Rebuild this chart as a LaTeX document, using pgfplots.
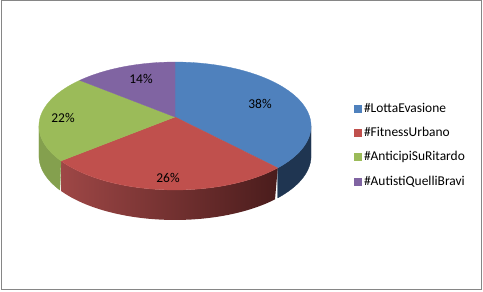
\documentclass[border=0pt]{standalone}
\usepackage{pgfplots}
\pgfplotsset{compat=1.18}
\usepackage{fontspec}
\setmainfont{Carlito}
\definecolor{cBlue}{HTML}{4F81BD}
\definecolor{cRed}{HTML}{C0504D}
\definecolor{cGreen}{HTML}{9BBB59}
\definecolor{cPurple}{HTML}{8064A2}
\definecolor{sBlue}{HTML}{1F3551}
\definecolor{sRedL}{HTML}{9E4746}
\definecolor{sRedR}{HTML}{4A1C1C}
\definecolor{sGreen}{HTML}{84A04E}
\definecolor{frameGray}{HTML}{868686}
% slice values (percent)
\def\vA{38}\def\vB{26}\def\vC{22}\def\vD{14}
\pgfmathsetmacro{\aA}{90}
\pgfmathsetmacro{\aB}{90-3.6*\vA}
\pgfmathsetmacro{\aC}{\aB-3.6*\vB}
\pgfmathsetmacro{\aD}{\aC-3.6*\vC}
\pgfmathsetmacro{\aE}{\aD-3.6*\vD}
\pgfmathsetmacro{\silR}{-asin(0.1406)}
\pgfmathsetmacro{\silL}{-180+asin(0.1406)}
\begin{document}
\begin{tikzpicture}
\begin{axis}[
  scale only axis, width=480bp, height=288bp,
  xmin=1, xmax=481, ymin=1, ymax=289, y dir=reverse,
  xtick=\empty, ytick=\empty,
  axis line style={draw=frameGray, line width=1bp},
  clip=false,
  declare function={
    den(\t)=1+0.1406*sin(\t);
    px(\t)=175+134.7*cos(\t)/den(\t);
    py(\t)=117-62.7*sin(\t)/den(\t);
  },
  font=\fontsize{13.5}{16}\selectfont,
  legend style={at={(axis cs:354,102)}, anchor=north west, draw=none, fill=none,
    inner sep=0pt, row sep=11.4bp, font=\fontsize{13.5}{16}\selectfont,
    nodes={inner xsep=2.5bp, inner ysep=1bp}},
  legend cell align=left,
  legend image code/.code={\fill[#1] (0bp,-3.5bp) rectangle (7bp,3.5bp);},
]
\path (axis cs:0,0) (axis cs:483,291);
% sides
\addplot[forget plot, draw=sBlue, line width=0.3bp, fill=sBlue, variable=\t, domain=0:2, samples=81]
  ({px(ifthenelse(\t>1, \silR-(\t-1)*(\silR-\aB), \aB+\t*(\silR-\aB)))},
   {py(ifthenelse(\t>1, \silR-(\t-1)*(\silR-\aB), \aB+\t*(\silR-\aB)))+30*(\t>1)}) -- cycle;
\addplot[forget plot, draw=none, left color=sRedL, right color=sRedR, variable=\t, domain=0:2, samples=121]
  ({px(ifthenelse(\t>1, \aB-(\t-1)*(\aB-\aC), \aC+\t*(\aB-\aC)))},
   {py(ifthenelse(\t>1, \aB-(\t-1)*(\aB-\aC), \aC+\t*(\aB-\aC)))+30*(\t>1)}) -- cycle;
\addplot[forget plot, draw=sGreen, line width=0.3bp, fill=sGreen, variable=\t, domain=0:2, samples=81]
  ({px(ifthenelse(\t>1, \aC-(\t-1)*(\aC-\silL), \silL+\t*(\aC-\silL)))},
   {py(ifthenelse(\t>1, \aC-(\t-1)*(\aC-\silL), \silL+\t*(\aC-\silL)))+30*(\t>1)}) -- cycle;
% top faces
\addplot[draw=cBlue, line width=0.3bp, fill=cBlue, domain=\aB:\aA, samples=80] ({px(x)},{py(x)}) -- (axis cs:175,117) -- cycle;
\addlegendentry{\#LottaEvasione}
\addplot[draw=cRed, line width=0.3bp, fill=cRed, domain=\aC:\aB, samples=80] ({px(x)},{py(x)}) -- (axis cs:175,117) -- cycle;
\addlegendentry{\#FitnessUrbano}
\addplot[draw=cGreen, line width=0.3bp, fill=cGreen, domain=\aD:\aC, samples=80] ({px(x)},{py(x)}) -- (axis cs:175,117) -- cycle;
\addlegendentry{\#AnticipiSuRitardo}
\addplot[draw=cPurple, line width=0.3bp, fill=cPurple, domain=\aE:\aD, samples=60] ({px(x)},{py(x)}) -- (axis cs:175,117) -- cycle;
\addlegendentry{\#AutistiQuelliBravi}
% labels
\node at (axis cs:260,104) {38\%};
\node at (axis cs:168,178) {26\%};
\node at (axis cs:63,118) {22\%};
\node at (axis cs:141,79) {14\%};
\end{axis}
\end{tikzpicture}
\end{document}
